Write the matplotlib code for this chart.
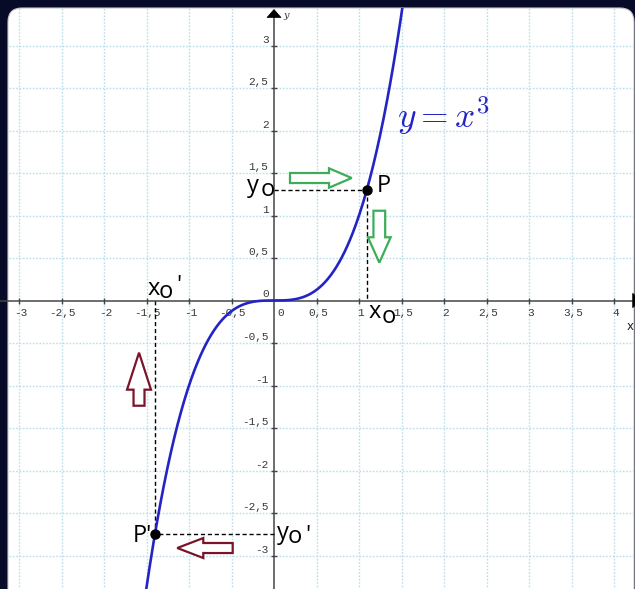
import numpy as np
import matplotlib
matplotlib.use("Agg")
import matplotlib.pyplot as plt
from matplotlib.patches import FancyBboxPatch, FancyArrow, Polygon
from matplotlib.transforms import IdentityTransform

# ---- data ----
x_ticks = [-3, -2.5, -2, -1.5, -1, -0.5, 0.5, 1, 1.5, 2, 2.5, 3, 3.5, 4]
x_tick_labels = ["-3", "-2,5", "-2", "-1,5", "-1", "-0,5", "0,5", "1", "1,5", "2", "2,5", "3", "3,5", "4"]
y_ticks = [3, 2.5, 2, 1.5, 1, 0.5, -0.5, -1, -1.5, -2, -2.5, -3]
y_tick_labels = ["3", "2,5", "2", "1,5", "1", "0,5", "-0,5", "-1", "-1,5", "-2", "-2,5", "-3"]
grid_x = [-3, -2.5, -2, -1.5, -1, -0.5, 0.5, 1, 1.5, 2, 2.5, 3, 3.5, 4]
grid_y = [3, 2.5, 2, 1.5, 1, 0.5, -0.5, -1, -1.5, -2, -2.5, -3]
curve_x = np.linspace(-1.6, 1.6, 400)      # y = x^3, as labelled on the chart
curve_y = curve_x ** 3
P_x, P_y = 1.09, 1.295
Pp_x, Pp_y = -1.40, -2.744

# ---- styling ----
DARK = "#080b27"
BLUE = "#2424c4"
GREEN = "#3cad58"
RED = "#7a1428"
GRID = "#bcdeea"
AXC = "#454545"
W, H = 635, 589
PX = 85.0          # pixels per unit
OX, OY = 274.0, 300.5

fig = plt.figure(figsize=(W / 100, H / 100), dpi=100)
fig.patch.set_facecolor(DARK)
ax = fig.add_axes([0, 0, 1, 1])
ax.set_xlim(-OX / PX, (W - OX) / PX)
ax.set_ylim((OY - H) / PX, OY / PX)
ax.axis("off")

card = FancyBboxPatch((8, -30), 626, 589 - 8 + 30,
                      boxstyle="round,pad=0,rounding_size=14",
                      transform=IdentityTransform(), fc="white", ec="#c9c9c9",
                      lw=0.8, zorder=0)
ax.add_patch(card)

# grid
for gx in grid_x:
    ln, = ax.plot([gx, gx], [-4, 4], color=GRID, lw=1.0, ls=(0, (1.2, 1.2)), zorder=1)
    ln.set_clip_path(card)
for gy in grid_y:
    ln, = ax.plot([-4, 5], [gy, gy], color=GRID, lw=1.0, ls=(0, (1.2, 1.2)), zorder=1)
    ln.set_clip_path(card)

# axes lines
xmin, xmax = ax.get_xlim()
ymin, ymax = ax.get_ylim()
ax.plot([xmin, (632.7 - OX) / PX], [0, 0], color=AXC, lw=1.1, zorder=3)
ax.plot([0, 0], [ymin, (OY - 17) / PX], color=AXC, lw=1.1, zorder=3)
ax.add_patch(Polygon([[-0.082, (OY - 17.5) / PX], [0.082, (OY - 17.5) / PX],
                      [0, (OY - 9.5) / PX]], closed=True, fc="black", ec="black", lw=0.5, zorder=4))
xa = (632.7 - OX) / PX
ax.add_patch(Polygon([[xa, -0.085], [xa, 0.085], [xa + 0.09, 0]], closed=True,
                     fc="black", ec="black", lw=0.5, zorder=4))

# ticks
ax.plot(x_ticks, [0] * len(x_ticks), ls="none", marker="|", ms=5, mew=1.0, color=AXC, zorder=3)
ax.plot([0] * len(y_ticks), y_ticks, ls="none", marker="_", ms=5, mew=1.0, color=AXC, zorder=3)

tick_font = dict(family="Liberation Mono", fontsize=8, color="#3a3a3a", zorder=5)
for t, lab in zip(x_ticks, x_tick_labels):
    ax.annotate(lab, (t, 0), xytext=(1, -9), textcoords="offset points",
                ha="center", va="center", **tick_font)
for t, lab in zip(y_ticks, y_tick_labels):
    ax.annotate(lab, (0, t), xytext=(-4, 4), textcoords="offset points",
                ha="right", va="center", **tick_font)
ax.annotate("0", (0, 0), xytext=(5, -9), textcoords="offset points", ha="center", va="center", **tick_font)
ax.annotate("0", (0, 0), xytext=(-6, 5), textcoords="offset points", ha="center", va="center", **tick_font)

ax.annotate("y", (0, ymax), xytext=(9, -11), textcoords="offset points", ha="center", va="center",
            family="DejaVu Serif", style="italic", fontsize=7, color="#333333")
ax.annotate("x", (xmax, 0), xytext=(-3.5, -19), textcoords="offset points", ha="center", va="center",
            family="DejaVu Sans", fontsize=8.5, color="#222222")

# curve
cl, = ax.plot(curve_x, curve_y, color=BLUE, lw=1.9, zorder=6, solid_capstyle="butt")
cl.set_clip_path(card)
ax.text((396.7 - OX) / PX, (OY - 128) / PX, r"$y=x^3$", color=BLUE, fontsize=25.5,
        math_fontfamily="cm", ha="left", va="baseline", zorder=6)

# dashed projections
dash = dict(color="black", lw=1.0, ls=(0, (3, 2)), zorder=5)
ax.plot([0, P_x], [P_y, P_y], **dash)
ax.plot([P_x, P_x], [P_y, 0], **dash)
ax.plot([0, Pp_x], [Pp_y, Pp_y], **dash)
ax.plot([Pp_x, Pp_x], [Pp_y, 0], **dash)
ax.plot([P_x, Pp_x], [P_y, Pp_y], ls="none", marker="o", ms=6.5, color="black", zorder=7)

# labels
lab = dict(family="Open Sans", fontsize=17, color="black", zorder=8, textcoords="offset points",
           ha="left", va="baseline")
k = 72 / 100.0  # px -> pt
ax.annotate("P", (P_x, P_y), xytext=(10 * k, -1.5 * k), **lab)
ax.annotate("y", (0, P_y), xytext=(-27.5 * k, -1.3 * k), **lab)
ax.annotate("o", (0, P_y), xytext=(-13.5 * k, -6 * k), **lab)
ax.annotate("x", (P_x, 0), xytext=(1.5 * k, -17.5 * k), **lab)
ax.annotate("o", (P_x, 0), xytext=(14.5 * k, -22.5 * k), **lab)
ax.annotate("x", (Pp_x, 0), xytext=(-7 * k, 5.5 * k), **lab)
ax.annotate("o", (Pp_x, 0), xytext=(4 * k, 2.5 * k), **lab)
ax.annotate("'", (Pp_x, 0), xytext=(21 * k, 8.5 * k), **lab)
lab2 = dict(lab)
lab2["ha"] = "right"
ax.annotate("P'", (Pp_x, Pp_y), xytext=(-3 * k, -8.4 * k), **lab2)
ax.annotate("y", (0, Pp_y), xytext=(3 * k, -5.7 * k), **lab)
ax.annotate("o", (0, Pp_y), xytext=(13.5 * k, -9.7 * k), **lab)
ax.annotate("'", (0, Pp_y), xytext=(31 * k, -8.7 * k), **lab)

# hollow block arrows
def block_arrow(x, y, dx, dy, w, hw, hl, col):
    ax.add_patch(FancyArrow(x, y, dx, dy, width=w, head_width=hw, head_length=hl,
                            length_includes_head=True, fc="white", ec=col, lw=1.6,
                            joinstyle="miter", zorder=7))

block_arrow(0.188, 1.441, 0.914 - 0.188, 0, 0.118, 0.228, 0.267, GREEN)
block_arrow(1.239, 1.056, 0, 0.445 - 1.056, 0.138, 0.267, 0.299, GREEN)
block_arrow(-1.588, -1.238, 0, -0.614 + 1.238, 0.129, 0.282, 0.435, RED)
block_arrow(-0.486, -2.912, -1.138 + 0.486, 0, 0.118, 0.235, 0.306, RED)

fig.savefig("out.png", dpi=100)
